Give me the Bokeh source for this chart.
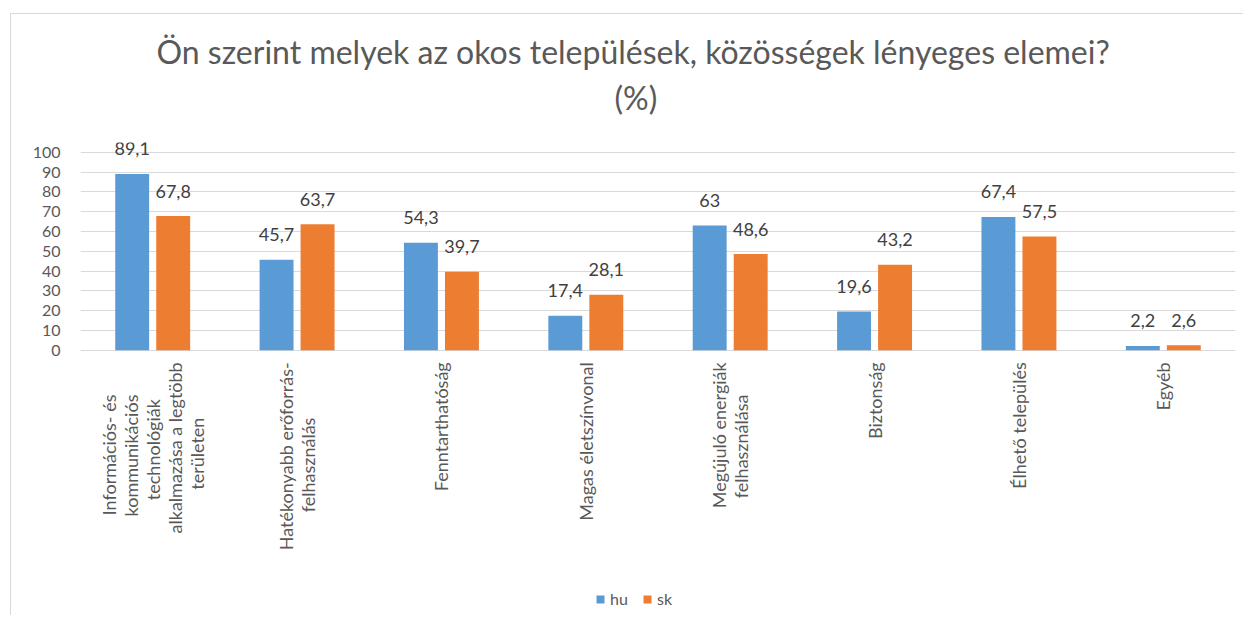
from math import pi
from bokeh.plotting import figure
from bokeh.models import (ColumnDataSource, FactorRange, Range1d, Title, Legend,
                          LegendItem, FixedTicker)
from bokeh.transform import dodge
from bokeh.core.properties import value
from bokeh.embed import file_html
from bokeh.resources import INLINE

# ---- data ----
categories = [
    "Információs- és\nkommunikációs\ntechnológiák\nalkalmazása a legtöbb\nterületen",
    "Hatékonyabb erőforrás-\nfelhasználás",
    "Fenntarthatóság",
    "Magas életszínvonal",
    "Megújuló energiák\nfelhasználása",
    "Biztonság",
    "Élhető település",
    "Egyéb",
]
hu = [89.1, 45.7, 54.3, 17.4, 63.0, 19.6, 67.4, 2.2]
sk = [67.8, 63.7, 39.7, 28.1, 48.6, 43.2, 57.5, 2.6]
series_names = ["hu", "sk"]
y_ticks = [0, 10, 20, 30, 40, 50, 60, 70, 80, 90, 100]

title_line1 = "Ön szerint melyek az okos települések, közösségek lényeges elemei?"
title_line2 = "(%)"

# visual centring of the lines of the rotated multi-line category labels
# (number of no-break spaces appended to each line)
line_pads = {
    categories[0]: [7, 7, 8, 0, 12],
    categories[1]: [0, 12],
    categories[4]: [0, 7],
}


def fmt(v):
    return f"{v:g}".replace(".", ",")


def padded(cat):
    pads = line_pads.get(cat)
    if not pads:
        return cat
    return "\n".join(line + "\u00a0" * n for line, n in zip(cat.split("\n"), pads))


src = ColumnDataSource(dict(
    cat=categories,
    cat_lbl=[padded(c) for c in categories],
    hu=hu,
    sk=sk,
    hu_lbl=[fmt(v) for v in hu],
    sk_lbl=[fmt(v) for v in sk],
))

FONT = "Lato"
GRAY = "#595959"
BLUE = "#5B9BD5"
ORANGE = "#ED7D31"

# the frame reaches below the value axis so that the category texts and the
# legend sit inside it; only 0..100 carries ticks and grid lines
p = figure(
    x_range=FactorRange(factors=categories),
    y_range=Range1d(-134, 105),
    frame_width=1155, frame_height=473,
    min_border_left=69, min_border_right=8,
    min_border_top=128, min_border_bottom=0,
    output_backend="svg", toolbar_location=None,
)
p.styles = {"margin-left": "10px", "margin-top": "13px",
            "border-left": "1px solid #d9d9d9", "border-top": "1px solid #d9d9d9"}

p.title.text = title_line1
p.title.align = "left"
p.title.offset = 76
p.title.standoff = -40
p.title.text_font = FONT
p.title.text_font_size = "32px"
p.title.text_font_style = "normal"
p.title.text_color = GRAY
p.add_layout(Title(text=title_line2, align="left", offset=534, text_font=FONT,
                   text_font_size="32px", text_font_style="normal",
                   text_color=GRAY, standoff=51), "above")

p.outline_line_color = None
p.xgrid.grid_line_color = None
p.ygrid.grid_line_color = "#d9d9d9"
p.ygrid.grid_line_width = 1
p.ygrid.ticker = FixedTicker(ticks=y_ticks)

p.yaxis.ticker = FixedTicker(ticks=y_ticks)
p.yaxis.axis_line_color = None
p.yaxis.major_tick_line_color = None
p.yaxis.minor_tick_line_color = None
p.yaxis.major_tick_out = 0
p.yaxis.major_tick_in = 0
p.yaxis.major_label_standoff = 20
p.yaxis.major_label_text_font = FONT
p.yaxis.major_label_text_font_size = "16px"
p.yaxis.major_label_text_color = GRAY

p.xaxis.visible = False

r_hu = p.vbar(x=dodge("cat", -0.142, range=p.x_range), top="hu", width=0.235,
              source=src, fill_color=BLUE, line_color=None)
r_sk = p.vbar(x=dodge("cat", 0.142, range=p.x_range), top="sk", width=0.235,
              source=src, fill_color=ORANGE, line_color=None)

p.text(x=dodge("cat", -0.142, range=p.x_range), y="hu", text="hu_lbl", source=src,
       text_align="center", text_baseline="alphabetic", y_offset=-25,
       text_font=value(FONT), text_font_size="18px", text_color="#404040")
p.text(x=dodge("cat", 0.142, range=p.x_range), y="sk", text="sk_lbl", source=src,
       text_align="center", text_baseline="alphabetic", y_offset=-25,
       text_font=value(FONT), text_font_size="18px", text_color="#404040")

# category labels, rotated, hanging below the value-axis baseline
p.text(x="cat", y=0, text="cat_lbl", source=src, angle=pi / 2,
       text_align="right", text_baseline="middle", y_offset=12,
       text_font=value(FONT), text_font_size="18px", text_line_height=1.0,
       text_color=GRAY)

legend = Legend(
    items=[LegendItem(label=series_names[0], renderers=[r_hu]),
           LegendItem(label=series_names[1], renderers=[r_sk])],
    orientation="horizontal", location=(515, 7),
    glyph_width=10, glyph_height=10, label_standoff=5, spacing=12,
    padding=0, margin=0, border_line_color=None, background_fill_alpha=0,
    label_text_font=FONT, label_text_font_size="16px", label_text_color=GRAY,
)
p.add_layout(legend)

open("out.html", "w").write(file_html(p, INLINE))
